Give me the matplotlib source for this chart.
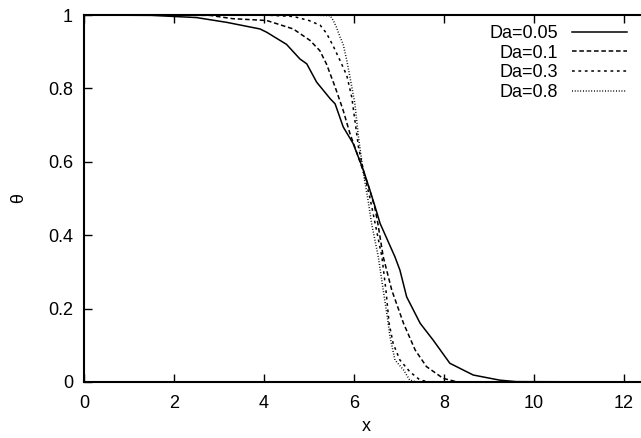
import matplotlib
matplotlib.use("Agg")
import matplotlib.pyplot as plt
from matplotlib.ticker import FixedLocator, FuncFormatter

# ---- data ----
labels = ["Da=0.05", "Da=0.1", "Da=0.3", "Da=0.8"]

x_da005 = [0, 1.5, 2.5, 3.17, 3.91, 4.06, 4.5, 4.8, 4.95, 5.17, 5.47, 5.58, 5.76, 5.98,
           6.21, 6.36, 6.47, 6.58, 6.91, 7.02, 7.17, 7.47, 7.76, 8.13, 8.65, 9.24, 9.6, 12.5]
t_da005 = [1, 0.999, 0.993, 0.98, 0.962, 0.953, 0.92, 0.88, 0.867, 0.817, 0.772, 0.758, 0.695, 0.65,
           0.577, 0.52, 0.477, 0.432, 0.341, 0.305, 0.232, 0.160, 0.114, 0.051, 0.019, 0.005, 0.001, 0]

x_da01 = [0, 2.8, 3.3, 4.06, 4.65, 5.02, 5.24, 5.39, 5.58, 5.76, 5.91, 6.07, 6.33, 6.46,
          6.53, 6.65, 6.84, 7.10, 7.36, 7.61, 7.98, 8.3, 12.5]
t_da01 = [1, 0.999, 0.99, 0.985, 0.962, 0.931, 0.903, 0.866, 0.804, 0.740, 0.677, 0.622, 0.531, 0.477,
          0.432, 0.341, 0.250, 0.160, 0.087, 0.042, 0.010, 0, 0]

x_da03 = [0, 4.0, 4.65, 5.0, 5.25, 5.39, 5.54, 5.69, 5.84, 5.95, 6.02, 6.10, 6.24, 6.35,
          6.47, 6.62, 6.71, 6.78, 6.87, 7.02, 7.24, 7.47, 7.7, 12.5]
t_da03 = [1, 1, 0.996, 0.985, 0.972, 0.95, 0.915, 0.876, 0.835, 0.776, 0.713, 0.640, 0.559, 0.504,
          0.432, 0.341, 0.250, 0.160, 0.105, 0.060, 0.028, 0.005, 0, 0]

x_da08 = [0, 5.0, 5.47, 5.54, 5.61, 5.69, 5.76, 5.84, 5.91, 6.02, 6.10, 6.21, 6.32, 6.39,
          6.54, 6.65, 6.74, 6.80, 6.91, 7.10, 7.24, 7.4, 12.5]
t_da08 = [1, 1, 0.998, 0.985, 0.967, 0.94, 0.92, 0.876, 0.831, 0.758, 0.667, 0.568, 0.49, 0.432,
          0.341, 0.250, 0.178, 0.123, 0.060, 0.033, 0.005, 0, 0]

xticks = [0, 2, 4, 6, 8, 10, 12]
yticks = [0, 0.2, 0.4, 0.6, 0.8, 1]

plt.rcParams['font.family'] = ['Liberation Sans', 'DejaVu Sans']

W, H = 641, 438
XMAX = 12.55
fig = plt.figure(figsize=(W / 100, H / 100), dpi=100)
ax = fig.add_axes([84 / W, 56 / H, 45 * XMAX / W, 367 / H])

series = [(x_da005, t_da005, '-'),
          (x_da01, t_da01, (0, (3.0, 1.8))),
          (x_da03, t_da03, (0, (1.8, 2.4))),
          (x_da08, t_da08, (0, (0.6, 1.2)))]
for (xs, ts, ls), lab in zip(series, labels):
    ax.plot(xs, ts, color='black', linestyle=ls, linewidth=1.1, label=lab)

ax.set_xlim(0, XMAX)
ax.set_ylim(0, 1)
ax.xaxis.set_major_locator(FixedLocator(xticks))
ax.yaxis.set_major_locator(FixedLocator(yticks))
ax.yaxis.set_major_formatter(FuncFormatter(lambda v, p: f"{v:g}"))
ax.xaxis.set_major_formatter(FuncFormatter(lambda v, p: f"{v:g}"))
ax.tick_params(direction='in', length=6, width=1.0, labelsize=13,
               top=True, right=True, colors='black')
ax.tick_params(axis='y', pad=8)
ax.tick_params(axis='x', pad=9)
for s in ax.spines.values():
    s.set_linewidth(1.5)

ax.set_xlabel('x', fontsize=13, labelpad=5)
ax.set_ylabel('θ', fontsize=13, labelpad=15)

ax.legend(loc='upper right', bbox_to_anchor=(627 / W, (H - 25) / H),
          bbox_transform=fig.transFigure, frameon=False, markerfirst=False,
          fontsize=13, handlelength=3.05, handletextpad=0.78,
          labelspacing=0.15, borderpad=0, borderaxespad=0)

fig.savefig('out.png', dpi=100)
